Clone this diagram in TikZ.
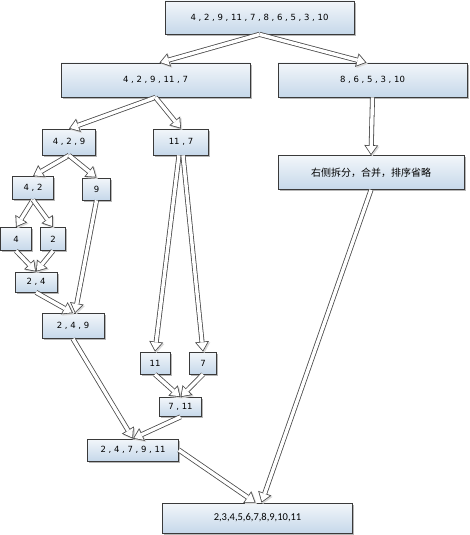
\documentclass[tikz,border=0pt]{standalone}
\usepackage{fontspec}
\setmainfont{DejaVu Sans}
\newfontfamily\cjk{Noto Sans CJK SC}
\newfontfamily\calib{Carlito}
\usetikzlibrary{arrows.meta, shadows}

\definecolor{boxtop}{HTML}{F2F6FA}
\definecolor{boxbottom}{HTML}{C6D8EA}
\definecolor{boxline}{HTML}{3A3A3A}
\definecolor{arrowline}{HTML}{4A4A4A}

\begin{document}
\begin{tikzpicture}[
    x=1pt, y=-1pt,
    box/.style={rectangle, draw=boxline, line width=0.7pt, top color=boxtop, bottom color=boxbottom, inner sep=0pt, font=\fontsize{8.5}{10}\selectfont, drop shadow={shadow xshift=1.6pt, shadow yshift=-1.6pt, fill=black!40, opacity=0.7}},
    hollow/.style={draw=arrowline, line width=5pt, -{Triangle[length=10pt, width=14pt, line width=0pt]},
        preaction={draw=black!15, transform canvas={shift={(1.3pt,-1.3pt)}}},
        postaction={draw=white, line width=3.4pt, shorten >=1.4pt, -{Triangle[length=7.8pt, width=10.9pt, line width=0pt]}}}
]
\useasboundingbox (0,0) rectangle (469,535);

% Split phase
\node[box, minimum width=189pt, minimum height=33pt] (all) at (259.5,17.5) {4 , 2 , 9 , 11 , 7 , 8 , 6 , 5 , 3 , 10};
\node[box, minimum width=189pt, minimum height=34pt] (lhalf) at (155.5,80) {4 , 2 , 9 , 11 , 7};
\node[box, minimum width=189pt, minimum height=34pt] (rhalf) at (372.5,80) {8 , 6 , 5 , 3 , 10};
\node[box, minimum width=53pt, minimum height=26pt] (a429) at (69,142) {4 , 2 , 9};
\node[box, minimum width=55pt, minimum height=26pt] (a117) at (181,142) {11 , 7};
\node[box, minimum width=41pt, minimum height=23pt] (a42) at (33,188) {4 , 2};
\node[box, minimum width=28pt, minimum height=22pt] (a9) at (96.5,189) {9};
\node[box, minimum width=31pt, minimum height=23pt] (a4) at (16,239) {4};
\node[box, minimum width=25pt, minimum height=23pt] (a2) at (53,239) {2};
\node[box, minimum width=30pt, minimum height=22pt] (b11) at (155,363) {11};
\node[box, minimum width=27pt, minimum height=22pt] (b7) at (203,363) {7};

% Merge phase
\node[box, minimum width=42pt, minimum height=20pt] (m24) at (36,282) {2 , 4};
\node[box, minimum width=62pt, minimum height=25pt] (m249) at (73,326) {2 , 4 , 9};
\node[box, minimum width=42pt, minimum height=19pt] (m711) at (180.5,407) {7 , 11};
\node[box, minimum width=91pt, minimum height=22pt] (m24711) at (133,450) {2 , 4 , 7 , 9 , 11};
\node[box, minimum width=186pt, minimum height=34pt, font=\cjk\fontsize{10}{12}\selectfont] (rpart) at (371,172.5) {右侧拆分，合并，排序省略};
\node[box, minimum width=190pt, minimum height=30pt, font=\calib\fontsize{10.5}{12}\selectfont] (sorted) at (257.5,518) {2,3,4,5,6,7,8,9,10,11};

% Splitting arrows
\draw[hollow] (all.south) -- ([xshift=4pt]lhalf.north);
\draw[hollow] (all.south) -- ([xshift=-6pt]rhalf.north);
\draw[hollow] (lhalf.south) -- (a429.north);
\draw[hollow] (lhalf.south) -- (a117.north);
\draw[hollow] (rhalf.south) -- (rpart.north);
\draw[hollow] (a429.south) -- (a42.north);
\draw[hollow] (a429.south) -- (a9.north);
\draw[hollow] ([xshift=-2pt]a117.south) -- (b11.north);
\draw[hollow] ([xshift=2pt]a117.south) -- (b7.north);
\draw[hollow] (a42.south) -- (a4.north);
\draw[hollow] (a42.south) -- (a2.north);

% Merging arrows
\draw[hollow] (a4.south) -- (m24.north);
\draw[hollow] (a2.south) -- (m24.north);
\draw[hollow] (m24.south) -- (m249.north);
\draw[hollow] (a9.south) -- ([xshift=2pt]m249.north);
\draw[hollow] (b11.south) -- (m711.north);
\draw[hollow] (b7.south) -- (m711.north);
\draw[hollow] (m249.south) -- (m24711.north);
\draw[hollow] (m711.south) -- (m24711.north);
\draw[hollow] (m24711.east) -- ([xshift=-2pt]sorted.north);
\draw[hollow] (rpart.south) -- ([xshift=4pt]sorted.north);

\end{tikzpicture}
\end{document}
